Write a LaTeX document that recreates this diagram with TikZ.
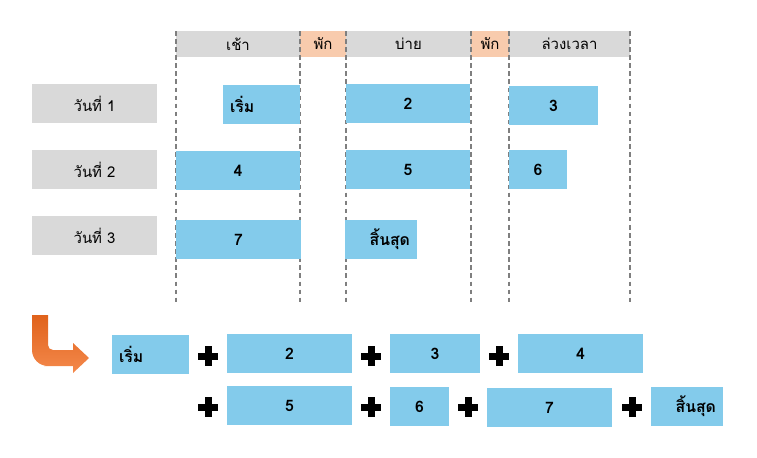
\documentclass[tikz,border=0pt]{standalone}
\usepackage{fontspec}
\setmainfont[Script=Thai]{Loma}
\usepackage{tikz}
\usetikzlibrary{positioning}
\definecolor{hdrgray}{HTML}{D9D9D9}
\definecolor{brkpeach}{HTML}{F8CBAD}
\definecolor{barblue}{HTML}{83CBEB}
\definecolor{gridgray}{HTML}{7F7F7F}
\definecolor{arrowdk}{HTML}{E0621B}
\definecolor{arrowlt}{HTML}{F4894C}
\tikzset{
  hdr/.style={rectangle,fill=hdrgray,inner sep=0pt,minimum height=26*0.02cm,
              font=\fontsize{8.5}{10}\selectfont},
  brk/.style={hdr,fill=brkpeach},
  day/.style={rectangle,fill=hdrgray,inner sep=0pt,minimum width=125*0.02cm,
              minimum height=39*0.02cm,font=\fontsize{8.5}{10}\selectfont},
  bar/.style={rectangle,fill=barblue,inner sep=0pt,minimum height=39*0.02cm,
              font=\fontsize{9}{10}\selectfont\bfseries},
  startbar/.style={bar,inner xsep=7*0.02cm,text width=63*0.02cm,align=left},
  endbar/.style={bar,inner xsep=7*0.02cm,text width=58*0.02cm,align=right},
  grid/.style={gridgray,line width=0.6pt,dash pattern=on 2.6pt off 2pt},
  plus/.pic={\fill (-10,-3.5) rectangle (10,3.5); \fill (-3.5,-10) rectangle (3.5,10);},
}

\begin{document}
\begin{tikzpicture}[x=0.02cm,y=-0.02cm]
  \useasboundingbox (0,0) rectangle (757,457);
  % header
  \foreach \n/\x/\w/\s/\lbl in {
    morn/238/124/hdr/เช้า,
    brka/323/46/brk/พัก,
    aft/408.5/125/hdr/บ่าย,
    brkb/490/38/brk/พัก,
    ot/569.5/121/hdr/ล่วงเวลา}{
    \node[\s,minimum width=\w*0.02cm] (\n) at (\x,44) {\lbl};
  }
  \foreach \x in {176,300,346,471,509,630}
    \draw[grid] (\x,31) -- (\x,302);
  % days
  \foreach \i/\y in {1/103.5,2/169.5,3/235.5}
    \node[day] (d\i) at (94.5,\y) {วันที่ \i};
  % schedule
  \node[startbar] (tbeg) at (261.5,104.5) {เริ่ม};
  \foreach \n/\x/\y/\w/\lbl in {
    t2/408/103.5/124/2,
    t3/553.5/105.5/89/3,
    t4/238/170.5/124/4,
    t5/408/169.5/124/5,
    t6/538/169.5/58/6,
    t7/238.5/239.5/125/7}{
    \node[bar,minimum width=\w*0.02cm] (\n) at (\x,\y) {\lbl};
  }
  \node[endbar] (tend) at (381,239.5) {สิ้นสุด};
  % arrow
  \shade[top color=arrowdk,bottom color=arrowlt]
    (32,315) -- (32,340) [rounded corners=0.32cm] -- (32,366) -- (60,366)
    [sharp corners] -- (73,366) -- (73,373) -- (89,358) -- (73,343) -- (73,350)
    -- (60,350) [rounded corners=0.1cm] -- (48,350) -- (48,330)
    [sharp corners] -- (48,315) -- cycle;
  % sequence
  \node[startbar] (sbeg) at (150.5,354.5) {เริ่ม};
  \foreach \n/\x/\y/\w/\lbl in {
    s2/289.5/353.5/125/2,
    s3/435/353.5/90/3,
    s4/580.5/353.5/125/4,
    s5/289.5/405.5/125/5,
    s6/419.5/406.5/59/6,
    s7/549.5/407.5/125/7}{
    \node[bar,minimum width=\w*0.02cm] (\n) at (\x,\y) {\lbl};
  }
  \node[endbar] (send) at (687,406.5) {สิ้นสุด};
  \foreach \x/\y in {208/356,371/356,499/356,208/407,371/407,468/407,632/407}
    \pic at (\x,\y) {plus};
\end{tikzpicture}
\end{document}
